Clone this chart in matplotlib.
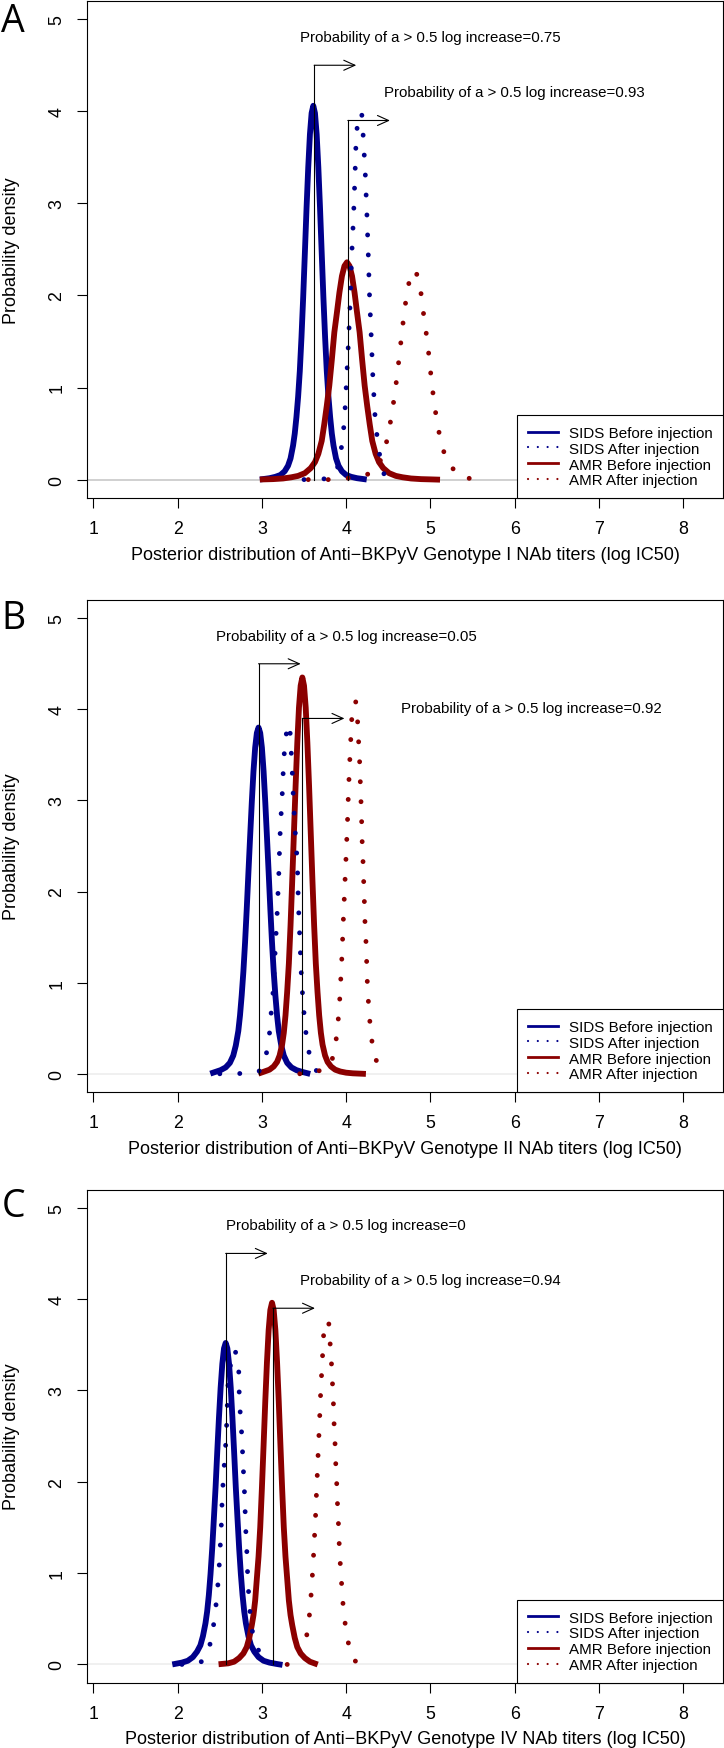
import matplotlib.pyplot as plt
from matplotlib.lines import Line2D

plt.rcParams['font.family'] = ['Liberation Sans', 'DejaVu Sans']

blue = '#00008b'
red = '#8b0000'

# Panel A - Genotype I
a_sids_before_x = [3.01, 3.09, 3.16, 3.22, 3.27, 3.31, 3.34, 3.37, 3.39, 3.41, 3.43, 3.45, 3.47, 3.49, 3.51, 3.53, 3.55, 3.57, 3.59, 3.61,
                   3.63, 3.65, 3.67, 3.69, 3.71, 3.73, 3.75, 3.77, 3.79, 3.81, 3.83, 3.85, 3.88, 3.91, 3.95, 4.00, 4.06, 4.13, 4.21]
a_sids_before_y = [0.005, 0.015, 0.03, 0.05, 0.09, 0.15, 0.23, 0.37, 0.50, 0.68, 0.90, 1.18, 1.55, 1.98, 2.46, 2.95, 3.39, 3.75, 3.98, 4.06,
                   3.98, 3.75, 3.39, 2.95, 2.46, 1.98, 1.55, 1.18, 0.90, 0.68, 0.50, 0.37, 0.23, 0.15, 0.09, 0.05, 0.03, 0.015, 0.005]
a_sids_after_x = [3.50, 3.80, 3.88, 3.918, 3.954, 3.98, 4.005, 4.029, 4.05, 4.065, 4.088, 4.105, 4.12, 4.15, 4.17, 4.19, 4.20, 4.227, 4.247, 4.263, 4.278, 4.298, 4.318, 4.345, 4.37, 4.41, 4.45, 4.53]
a_sids_after_y = [0, 0.01, 0.08, 0.19, 0.41, 0.64, 1.08, 1.52, 1.97, 2.41, 2.86, 3.30, 3.75, 3.95, 3.99, 3.95, 3.77, 3.33, 2.87, 2.44, 1.99, 1.55, 1.10, 0.66, 0.445, 0.19, 0.06, 0]
a_amr_before_x = [3.01, 3.13, 3.25, 3.35, 3.43, 3.51, 3.58, 3.63, 3.67, 3.71, 3.74, 3.77, 3.80, 3.83, 3.86, 3.89, 3.92, 3.95, 3.98, 4.01,
                  4.04, 4.07, 4.10, 4.13, 4.16, 4.19, 4.22, 4.25, 4.28, 4.31, 4.35, 4.39, 4.44, 4.51, 4.59, 4.67, 4.77, 4.89, 5.01, 5.08]
a_amr_before_y = [0.002, 0.005, 0.012, 0.025, 0.04, 0.07, 0.125, 0.19, 0.28, 0.42, 0.60, 0.80, 1.02, 1.30, 1.60, 1.81, 2.03, 2.21, 2.32, 2.36,
                  2.32, 2.21, 2.03, 1.81, 1.60, 1.30, 1.02, 0.80, 0.60, 0.42, 0.28, 0.19, 0.125, 0.07, 0.04, 0.025, 0.012, 0.005, 0.002, 0]
a_amr_after_x = [3.55, 3.79, 4.10, 4.326, 4.445, 4.50, 4.54, 4.576, 4.608, 4.635, 4.663, 4.69, 4.723, 4.77, 4.82, 4.87, 4.90, 4.93, 4.965, 4.99, 5.015, 5.044, 5.08, 5.127, 5.20, 5.37, 5.654]
a_amr_after_y = [0, 0, 0.02, 0.076, 0.27, 0.49, 0.70, 0.92, 1.15, 1.37, 1.60, 1.82, 2.03, 2.25, 2.27, 2.16, 1.94, 1.72, 1.50, 1.28, 1.06, 0.84, 0.62, 0.40, 0.184, 0.02, 0]

# Panel B - Genotype II
b_sids_before_x = [2.42, 2.51, 2.57, 2.62, 2.66, 2.69, 2.72, 2.74, 2.76, 2.78, 2.80, 2.82, 2.84, 2.86, 2.88, 2.90, 2.92, 2.94, 2.96,
                   2.98, 3.00, 3.02, 3.04, 3.06, 3.08, 3.10, 3.12, 3.14, 3.16, 3.18, 3.20, 3.23, 3.26, 3.30, 3.35, 3.41, 3.48, 3.54]
b_sids_before_y = [0.012, 0.04, 0.07, 0.12, 0.20, 0.31, 0.47, 0.64, 0.86, 1.12, 1.44, 1.81, 2.21, 2.60, 2.98, 3.32, 3.58, 3.74, 3.80,
                   3.74, 3.58, 3.32, 2.98, 2.60, 2.21, 1.81, 1.44, 1.12, 0.86, 0.64, 0.47, 0.31, 0.20, 0.12, 0.07, 0.04, 0.02, 0.006]
b_sids_after_x = [2.50, 2.70, 2.96, 3.02, 3.053, 3.089, 3.108, 3.13, 3.155, 3.167, 3.18, 3.19, 3.20, 3.207, 3.215, 3.227, 3.24, 3.25, 3.263, 3.279, 3.33, 3.342, 3.357, 3.365, 3.389, 3.421, 3.433, 3.452, 3.472, 3.508, 3.535, 3.58, 3.65, 3.76]
b_sids_after_y = [0, 0, 0.02, 0.10, 0.22, 0.43, 0.65, 0.86, 1.30, 1.52, 1.74, 1.96, 2.17, 2.39, 2.61, 2.83, 3.04, 3.26, 3.48, 3.70, 3.84, 3.62, 3.40, 3.19, 2.75, 2.31, 1.87, 1.44, 1.00, 0.57, 0.35, 0.14, 0.03, 0]
b_amr_before_x = [2.99, 3.03, 3.09, 3.14, 3.18, 3.21, 3.24, 3.26, 3.28, 3.30, 3.32, 3.34, 3.36, 3.38, 3.40, 3.42, 3.44, 3.46, 3.48,
                  3.50, 3.52, 3.54, 3.56, 3.58, 3.60, 3.62, 3.64, 3.66, 3.68, 3.70, 3.72, 3.75, 3.78, 3.82, 3.87, 3.93, 4.00, 4.08, 4.20]
b_amr_before_y = [0.012, 0.025, 0.045, 0.08, 0.13, 0.20, 0.32, 0.45, 0.64, 0.90, 1.21, 1.63, 2.12, 2.64, 3.16, 3.63, 4.02, 4.26, 4.35,
                  4.26, 4.02, 3.63, 3.16, 2.64, 2.12, 1.63, 1.21, 0.90, 0.64, 0.45, 0.32, 0.20, 0.13, 0.08, 0.045, 0.025, 0.012, 0.005, 0]
b_amr_after_x = [3.45, 3.60, 3.816, 3.872, 3.899, 3.919, 3.931, 3.943, 3.955, 3.962, 3.974, 3.982, 3.994, 4.002, 4.014, 4.02, 4.03, 4.038, 4.05, 4.06, 4.073, 4.113, 4.136, 4.148, 4.16, 4.168, 4.176, 4.184, 4.19, 4.20, 4.208, 4.216, 4.223, 4.235, 4.243, 4.25, 4.263, 4.279, 4.302, 4.346, 4.49]
b_amr_after_y = [0, 0, 0.09, 0.30, 0.52, 0.73, 0.94, 1.16, 1.38, 1.60, 1.82, 2.04, 2.25, 2.47, 2.69, 2.91, 3.13, 3.34, 3.56, 3.78, 4.00, 4.09, 3.87, 3.65, 3.43, 3.21, 3.00, 2.77, 2.55, 2.34, 2.12, 1.90, 1.68, 1.46, 1.25, 1.03, 0.81, 0.60, 0.38, 0.16, 0]

# Panel C - Genotype IV
c_sids_before_x = [1.97, 2.05, 2.12, 2.18, 2.23, 2.27, 2.30, 2.33, 2.35, 2.37, 2.39, 2.41, 2.43, 2.45, 2.47, 2.49, 2.51, 2.53, 2.55, 2.57,
                   2.59, 2.61, 2.63, 2.65, 2.67, 2.69, 2.71, 2.73, 2.75, 2.77, 2.79, 2.81, 2.84, 2.87, 2.91, 2.96, 3.02, 3.09, 3.17, 3.21]
c_sids_before_y = [0.006, 0.02, 0.04, 0.08, 0.14, 0.21, 0.31, 0.45, 0.58, 0.76, 0.99, 1.27, 1.60, 1.94, 2.33, 2.70, 3.03, 3.29, 3.46, 3.52,
                   3.46, 3.29, 3.03, 2.70, 2.33, 1.94, 1.60, 1.27, 0.99, 0.76, 0.58, 0.45, 0.31, 0.21, 0.14, 0.08, 0.04, 0.02, 0.006, 0]
c_sids_after_x = [2.05, 2.25, 2.313, 2.40, 2.432, 2.46, 2.48, 2.496, 2.508, 2.52, 2.527, 2.539, 2.555, 2.571, 2.582, 2.59, 2.598, 2.63, 2.681, 2.725, 2.729, 2.74, 2.757, 2.769, 2.78, 2.792, 2.80, 2.808, 2.82, 2.828, 2.84, 2.855, 2.879, 2.942, 3.05, 3.19]
c_sids_after_y = [0, 0.01, 0.052, 0.26, 0.47, 0.69, 0.90, 1.12, 1.34, 1.56, 1.78, 1.99, 2.21, 2.42, 2.64, 2.86, 3.08, 3.30, 3.45, 3.23, 3.01, 2.79, 2.57, 2.35, 2.13, 1.91, 1.70, 1.48, 1.26, 1.04, 0.82, 0.61, 0.39, 0.18, 0.03, 0]
c_amr_before_x = [2.52, 2.60, 2.67, 2.73, 2.78, 2.82, 2.85, 2.88, 2.90, 2.92, 2.94, 2.96, 2.98, 3.00, 3.02, 3.04, 3.06, 3.08, 3.10, 3.12,
                  3.14, 3.16, 3.18, 3.20, 3.22, 3.24, 3.26, 3.28, 3.30, 3.32, 3.34, 3.36, 3.39, 3.42, 3.46, 3.51, 3.57, 3.63]
c_amr_before_y = [0.005, 0.012, 0.03, 0.07, 0.12, 0.19, 0.29, 0.43, 0.54, 0.70, 0.94, 1.18, 1.50, 1.93, 2.40, 2.88, 3.31, 3.66, 3.88, 3.96,
                  3.88, 3.66, 3.31, 2.88, 2.40, 1.93, 1.50, 1.18, 0.94, 0.70, 0.54, 0.43, 0.29, 0.19, 0.12, 0.07, 0.03, 0.01]
c_amr_after_x = [3.30, 3.39, 3.51, 3.55, 3.575, 3.59, 3.606, 3.618, 3.63, 3.642, 3.65, 3.662, 3.67, 3.682, 3.69, 3.70, 3.713, 3.725, 3.737, 3.792, 3.808, 3.824, 3.836, 3.848, 3.855, 3.867, 3.875, 3.887, 3.895, 3.907, 3.915, 3.927, 3.943, 3.958, 3.982, 4.014, 4.073, 4.15]
c_amr_after_y = [0, 0, 0.198, 0.417, 0.636, 0.85, 1.07, 1.28, 1.50, 1.72, 1.94, 2.16, 2.38, 2.60, 2.81, 3.03, 3.25, 3.47, 3.685, 3.765, 3.54, 3.33, 3.11, 2.89, 2.67, 2.45, 2.23, 2.01, 1.80, 1.58, 1.37, 1.15, 0.93, 0.71, 0.49, 0.28, 0.07, 0]

# arrow start (mean before injection) and probabilities
a_arrow_x = [3.62, 4.02]
b_arrow_x = [2.96, 3.48]
c_arrow_x = [2.57, 3.13]
a_probs = ['0.75', '0.93']
b_probs = ['0.05', '0.92']
c_probs = ['0', '0.94']
a_text_x = [5.0, 6.0]
b_text_x = [4.0, 6.2]
c_text_x = [4.0, 5.0]
b_text_y = [4.80, 4.01]
arrow_top = [4.5, 3.9]
text_y = [4.81, 4.21]

legend_labels = ['SIDS Before injection', 'SIDS After injection', 'AMR Before injection', 'AMR After injection']
x_ticks = [1, 2, 3, 4, 5, 6, 7, 8]
y_ticks = [0, 1, 2, 3, 4, 5]

fig = plt.figure(figsize=(7.24, 17.49), dpi=100)
W, H = 724, 1749
dots = (0, (0.01, 4.1))

panels = [
    ('A', 1.8, 499, 32, 'I', '#c8c8c8',
     (a_sids_before_x, a_sids_before_y), (a_sids_after_x, a_sids_after_y),
     (a_amr_before_x, a_amr_before_y), (a_amr_after_x, a_amr_after_y),
     a_arrow_x, a_probs, a_text_x, text_y),
    ('B', 601, 1093, 629, 'II', '#eeeeee',
     (b_sids_before_x, b_sids_before_y), (b_sids_after_x, b_sids_after_y),
     (b_amr_before_x, b_amr_before_y), (b_amr_after_x, b_amr_after_y),
     b_arrow_x, b_probs, b_text_x, b_text_y),
    ('C', 1190.5, 1683.7, 1217, 'IV', '#eeeeee',
     (c_sids_before_x, c_sids_before_y), (c_sids_after_x, c_sids_after_y),
     (c_amr_before_x, c_amr_before_y), (c_amr_after_x, c_amr_after_y),
     c_arrow_x, c_probs, c_text_x, text_y),
]

for letter, top, bottom, base, geno, zcol, sb, sa, ab, aa, arr_x, probs, tx, ty in panels:
    ax = fig.add_axes([86.7 / W, 1 - bottom / H, (723.5 - 86.7) / W, (bottom - top) / H])
    ax.axhline(0, color=zcol, lw=1.2, zorder=0)
    ax.plot(sb[0], sb[1], color=blue, lw=4.2)
    ax.plot(ab[0], ab[1], color=red, lw=4.2)
    ax.plot(sa[0], sa[1], color=blue, lw=3.5, linestyle=dots, dash_capstyle='round')
    ax.plot(aa[0], aa[1], color=red, lw=3.5, linestyle=dots, dash_capstyle='round')
    for i in range(2):
        ax.plot([arr_x[i], arr_x[i]], [0, arrow_top[i]], color='black', lw=0.8)
        ax.annotate('', xy=(arr_x[i] + 0.5, arrow_top[i]), xytext=(arr_x[i], arrow_top[i]),
                    arrowprops=dict(arrowstyle='->,head_length=0.8,head_width=0.36',
                                    color='black', lw=0.8, shrinkA=0, shrinkB=0))
        ax.text(tx[i], ty[i], 'Probability of a > 0.5 log increase=' + probs[i],
                ha='center', va='center', fontsize=10.8)
    ax.set_xlim(0.92, 8.48)
    ax.set_ylim(-0.2, 5.2)
    ax.set_xticks(x_ticks)
    ax.set_yticks(y_ticks)
    ax.tick_params(axis='both', length=7.2, width=0.8, labelsize=12.8)
    ax.tick_params(axis='x', pad=9)
    ax.tick_params(axis='y', pad=8, labelrotation=90)
    for lab in ax.get_yticklabels():
        lab.set_va('center')
    for s in ax.spines.values():
        s.set_linewidth(0.8)
    ax.text(0.5, -56 / (bottom - top), 'Posterior distribution of Anti\u2212BKPyV Genotype ' + geno + ' NAb titers (log IC50)',
            transform=ax.transAxes, ha='center', va='center', fontsize=13)
    ax.text(-75 / (723.5 - 86.7), 0.5, 'Probability density', transform=ax.transAxes,
            rotation=90, ha='center', va='center', fontsize=13)
    handles = [Line2D([], [], color=blue, lw=2),
               Line2D([], [], color=blue, lw=1.6, linestyle=(0, (0.01, 4.4)), dash_capstyle='round'),
               Line2D([], [], color=red, lw=2),
               Line2D([], [], color=red, lw=1.6, linestyle=(0, (0.01, 4.4)), dash_capstyle='round')]
    leg = ax.legend(handles, legend_labels, loc='lower right', borderaxespad=0, fontsize=10.9,
                    fancybox=False, framealpha=1, edgecolor='black', handlelength=2.0,
                    handletextpad=0.75, labelspacing=0.12, borderpad=0.7)
    leg.get_frame().set_linewidth(0.8)
    fig.text(0.002, 1 - base / H, letter, fontsize=27, family=['Open Sans', 'DejaVu Sans'],
             ha='left', va='baseline')

fig.savefig('out.png', dpi=100)
